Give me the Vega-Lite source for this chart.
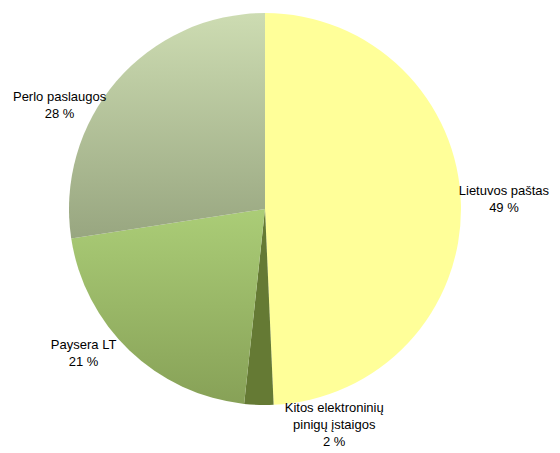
{
  "$schema": "https://vega.github.io/schema/vega-lite/v6.json",
  "width": 530,
  "height": 418,
  "autosize": {"type": "none"},
  "padding": {"left": 0, "top": 0, "right": 30, "bottom": 35},
  "background": "white",
  "data": {
    "values": [
      {"name": "Lietuvos paštas", "value": 49.3, "label": "Lietuvos paštas\n49 %", "order": 1},
      {"name": "Kitos elektroninių pinigų įstaigos", "value": 2.4, "label": "Kitos elektroninių\npinigų įstaigos\n2 %", "order": 2},
      {"name": "Paysera LT", "value": 20.9, "label": "Paysera LT\n21 %", "order": 3},
      {"name": "Perlo paslaugos", "value": 27.4, "label": "Perlo paslaugos\n28 %", "order": 4}
    ]
  },
  "transform": [
    {"stack": "value", "groupby": [], "sort": [{"field": "order", "order": "ascending"}], "as": ["v0", "v1"]},
    {"calculate": "(datum.v0 + datum.v1) / 2", "as": "mid"}
  ],
  "layer": [
    {
      "transform": [{"filter": "datum.name == 'Lietuvos paštas'"}],
      "mark": {"type": "arc", "radius": 196, "fill": "#ffff99"},
      "encoding": {
        "theta": {"field": "v0", "type": "quantitative", "stack": null, "scale": {"domain": [0, 100]}},
        "theta2": {"field": "v1"}
      }
    },
    {
      "transform": [{"filter": "datum.name == 'Kitos elektroninių pinigų įstaigos'"}],
      "mark": {"type": "arc", "radius": 196, "fill": "#657a34"},
      "encoding": {
        "theta": {"field": "v0", "type": "quantitative", "stack": null},
        "theta2": {"field": "v1"}
      }
    },
    {
      "transform": [{"filter": "datum.name == 'Paysera LT'"}],
      "mark": {"type": "arc", "radius": 196, "fill": {"gradient": "linear", "x1": 0, "y1": 0, "x2": 0, "y2": 1, "stops": [{"offset": 0, "color": "#abcd77"}, {"offset": 1, "color": "#87a157"}]}},
      "encoding": {
        "theta": {"field": "v0", "type": "quantitative", "stack": null},
        "theta2": {"field": "v1"}
      }
    },
    {
      "transform": [{"filter": "datum.name == 'Perlo paslaugos'"}],
      "mark": {"type": "arc", "radius": 196, "fill": {"gradient": "linear", "x1": 0, "y1": 0, "x2": 0, "y2": 1, "stops": [{"offset": 0, "color": "#cddcb2"}, {"offset": 1, "color": "#98a680"}]}},
      "encoding": {
        "theta": {"field": "v0", "type": "quantitative", "stack": null},
        "theta2": {"field": "v1"}
      }
    },
    {
      "transform": [{"filter": "datum.name == 'Lietuvos paštas'"}],
      "mark": {"type": "text", "radius": 239, "dy": -13, "align": "center", "baseline": "middle", "lineBreak": "\n", "lineHeight": 17, "font": "Liberation Sans, Arial", "fontSize": 13, "fill": "#000000"},
      "encoding": {
        "theta": {"field": "mid", "type": "quantitative", "stack": null},
        "text": {"field": "label"}
      }
    },
    {
      "transform": [{"filter": "datum.name == 'Kitos elektroninių pinigų įstaigos'"}],
      "mark": {"type": "text", "radius": 216, "dx": 76, "dy": -17, "align": "center", "baseline": "middle", "lineBreak": "\n", "lineHeight": 17, "font": "Liberation Sans, Arial", "fontSize": 13, "fill": "#000000"},
      "encoding": {
        "theta": {"field": "mid", "type": "quantitative", "stack": null},
        "text": {"field": "label"}
      }
    },
    {
      "transform": [{"filter": "datum.name == 'Paysera LT'"}],
      "mark": {"type": "text", "radius": 232, "dx": -21, "dy": -32, "align": "center", "baseline": "middle", "lineBreak": "\n", "lineHeight": 17, "font": "Liberation Sans, Arial", "fontSize": 13, "fill": "#000000"},
      "encoding": {
        "theta": {"field": "mid", "type": "quantitative", "stack": null},
        "text": {"field": "label"}
      }
    },
    {
      "transform": [{"filter": "datum.name == 'Perlo paslaugos'"}],
      "mark": {"type": "text", "radius": 230, "dx": -31, "dy": 38, "align": "center", "baseline": "middle", "lineBreak": "\n", "lineHeight": 17, "font": "Liberation Sans, Arial", "fontSize": 13, "fill": "#000000"},
      "encoding": {
        "theta": {"field": "mid", "type": "quantitative", "stack": null},
        "text": {"field": "label"}
      }
    }
  ]
}
